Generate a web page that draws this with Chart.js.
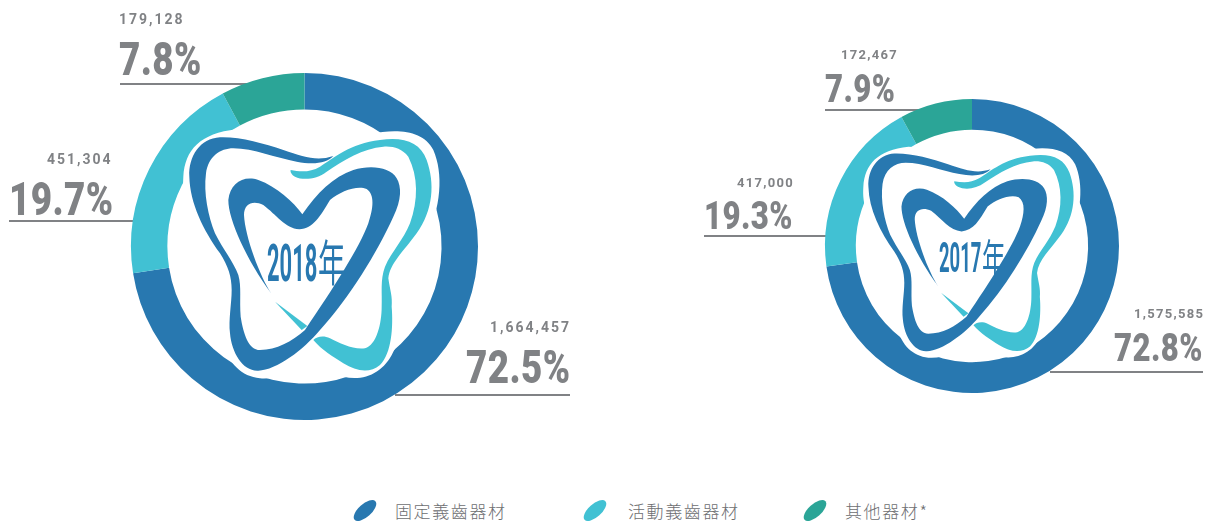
<!DOCTYPE html>
<html>
<head>
<meta charset="utf-8">
<script src="https://cdn.jsdelivr.net/npm/chart.js@4/dist/chart.umd.min.js"></script>
<style>
    html, body { margin: 0; padding: 0; background: #fff; overflow: hidden; }
    #page { position: relative; width: 1210px; height: 522px; }
    canvas { position: absolute; }
    .count { font: 700 14px Roboto, sans-serif; color: #808285; letter-spacing: 2px; }
    .pct { font: 900 46px Roboto, sans-serif; color: #808285; transform: scaleX(0.8); letter-spacing: 0.5px; }
    .rule { position: absolute; height: 2px; background: #808285; }
    .year { color: #2878b0; font-family: Roboto, "Noto Sans CJK TC", sans-serif; font-weight: 700; }
    .kanji { color: #2878b0; font-family: Roboto, "Noto Sans CJK TC", sans-serif; font-weight: 400; }
    .leg { font: 300 17px "Noto Sans CJK TC", sans-serif; color: #6d6e71; letter-spacing: 1.6px; }
    .swatch { position: absolute; width: 28px; height: 13px; border-radius: 50%; transform: rotate(-42deg); }
    .txt { position: absolute; white-space: nowrap; transform-origin: 0 0; line-height: 1; }
</style>
</head>
<body>
<div id="page"></div>
<script>
const categories = ["固定義齒器材", "活動義齒器材", "其他器材*"];
const colors = ["#2878b0", "#41c1d3", "#2ba597"];

const values2018 = [1664457, 451304, 179128];
const percents2018 = ["72.5%", "19.7%", "7.8%"];
const values2017 = [1575585, 417000, 172467];
const percents2017 = ["72.8%", "19.3%", "7.9%"];

// Logo del diente, coordenadas de un dibujo de 840x810 centrado en 403.5,379.5
const toothHalo = "M40 170 C45 90 90 40 200 28 C280 30 350 75 440 88 C480 90 520 60 600 42 C680 25 760 30 790 90 C820 160 815 260 765 365 C730 420 685 440 680 520 C690 590 695 660 670 695 C640 760 580 785 520 770 C490 760 460 740 430 725 C390 750 320 780 270 775 C215 770 175 730 160 670 C150 600 170 540 170 480 C140 420 80 350 55 270 C40 230 38 200 40 170 Z";
const toothBlue = "M490 108 C440 125 400 110 340 90 C280 70 210 50 150 52 C90 55 55 110 58 170 C60 250 100 330 150 400 C175 440 185 470 185 510 C185 550 175 600 180 640 C185 700 220 755 265 752 C320 750 400 690 450 630 C540 530 620 400 670 290 C695 240 695 200 680 175 C660 140 600 135 550 150 C490 170 440 220 397 283 C370 245 320 200 265 180 C220 165 180 190 175 240 C175 300 230 420 305 522 C270 470 225 350 222 285 C222 250 250 240 280 255 C320 285 345 325 388 328 C430 325 450 290 480 240 C510 215 560 195 590 207 C615 225 610 265 595 310 C570 380 490 505 405 630 C365 665 320 690 270 690 C235 690 220 640 212 590 C208 540 215 500 205 465 C190 425 160 390 135 340 C115 290 100 220 108 160 C115 110 150 85 190 85 C250 85 320 115 380 125 C430 135 470 130 490 108 Z";
const toothTeal = "M362 150 C390 155 420 158 450 140 C490 115 540 70 630 60 C700 50 750 65 770 120 C795 190 790 270 740 340 C700 395 660 430 655 475 C660 510 668 530 665 560 C670 620 665 700 630 735 C600 760 560 755 520 730 C490 710 455 690 430 660 C440 650 460 645 480 655 C510 670 550 690 585 685 C620 675 635 610 635 560 C637 520 630 480 645 440 C665 395 700 360 720 310 C745 240 745 170 715 110 C695 85 670 78 640 80 C580 85 520 120 470 155 C440 178 400 182 375 170 C365 165 360 155 362 150 Z";
const toothTip = "M315 545 L412 618 L395 630 Z";

const logoPlugin = {
    id: "logo",
    afterDatasetsDraw(chart, args, opts) {
        const arc = chart.getDatasetMeta(0).data[0];
        const ctx = chart.ctx;
        const s = arc.outerRadius / 173.5 / 3;
        ctx.save();
        ctx.translate(arc.x + (opts.dx || 0), arc.y);
        ctx.scale(s, s);
        ctx.translate(-403.5, -379.5);
        ctx.fillStyle = "#fff";
        ctx.fill(new Path2D(toothHalo));
        ctx.fillStyle = colors[0];
        ctx.fill(new Path2D(toothBlue));
        ctx.fillStyle = colors[1];
        ctx.fill(new Path2D(toothTeal));
        ctx.fill(new Path2D(toothTip));
        ctx.restore();
    },
};

const page = document.getElementById("page");

function addText(cls, text, x, y, extra) {
    const el = document.createElement("div");
    el.className = "txt " + cls;
    el.textContent = text;
    el.style.left = x + "px";
    el.style.top = y + "px";
    if (extra) Object.assign(el.style, extra);
    page.appendChild(el);
    return el;
}

function addRule(x1, x2, y) {
    const el = document.createElement("div");
    el.className = "rule";
    el.style.left = x1 + "px";
    el.style.width = (x2 - x1) + "px";
    el.style.top = y + "px";
    page.appendChild(el);
}

function addDonut(values, left, top, width, height, pad, logoDx) {
    const canvas = document.createElement("canvas");
    canvas.width = width;
    canvas.height = height;
    canvas.style.left = left + "px";
    canvas.style.top = top + "px";
    page.appendChild(canvas);
    new Chart(canvas.getContext("2d"), {
        type: "doughnut",
        data: {
            labels: categories,
            datasets: [{ data: values, backgroundColor: colors, borderWidth: 0 }],
        },
        options: {
            responsive: false,
            animation: false,
            cutout: "79%",
            layout: { padding: pad },
            plugins: {
                legend: { display: false },
                tooltip: { enabled: false },
                logo: { dx: logoDx },
            },
        },
        plugins: [logoPlugin],
    });
}

// Reglas debajo de los anillos
addRule(395, 570, 394);
addRule(9, 140, 220);
addRule(120, 250, 83);
addRule(1050, 1203, 371);
addRule(704, 830, 235);
addRule(825, 925, 109);

addDonut(values2018, 0, 0, 609, 493, 73, 0);
addDonut(values2017, 734, 0, 476, 492, { top: 99, bottom: 99, left: 91, right: 91 }, -6);

const fmt = n => n.toLocaleString("en-US");

// 2018
addText("count", fmt(values2018[0]), 490, 320);
addText("pct", percents2018[0], 466, 344);
addText("count", fmt(values2018[1]), 47, 152);
addText("pct", percents2018[1], 9, 176);
addText("count", fmt(values2018[2]), 119, 12);
addText("pct", percents2018[2], 119, 36);

// 2017
const small = { fontSize: "13px", letterSpacing: "1.3px" };
addText("count", fmt(values2017[0]), 1134, 307, small);
addText("pct", percents2017[0], 1114, 329, { fontSize: "39px" });
addText("count", fmt(values2017[1]), 737, 176, small);
addText("pct", percents2017[1], 704, 197, { fontSize: "39px" });
addText("count", fmt(values2017[2]), 841, 48, small);
addText("pct", percents2017[2], 825, 70, { fontSize: "39px" });

// Centro: cifras y carácter con distinta compresión
addText("year", "2018", 267, 238, { fontSize: "51px", transform: "scaleX(0.43)" });
addText("kanji", "年", 318, 240, { fontSize: "49px", transform: "scaleX(0.56)" });
addText("year", "2017", 939, 236, { fontSize: "43px", transform: "scaleX(0.43)" });
addText("kanji", "年", 982, 240, { fontSize: "42px", transform: "scaleX(0.56)" });

// Leyenda
const legendSwatchX = [351, 581, 801];
const legendTextX = [395, 628, 845];
categories.forEach((name, i) => {
    const sw = document.createElement("div");
    sw.className = "swatch";
    sw.style.left = legendSwatchX[i] + "px";
    sw.style.top = "504px";
    sw.style.background = colors[i];
    page.appendChild(sw);
    addText("leg", name, legendTextX[i], 502);
});
</script>
</body>
</html>
